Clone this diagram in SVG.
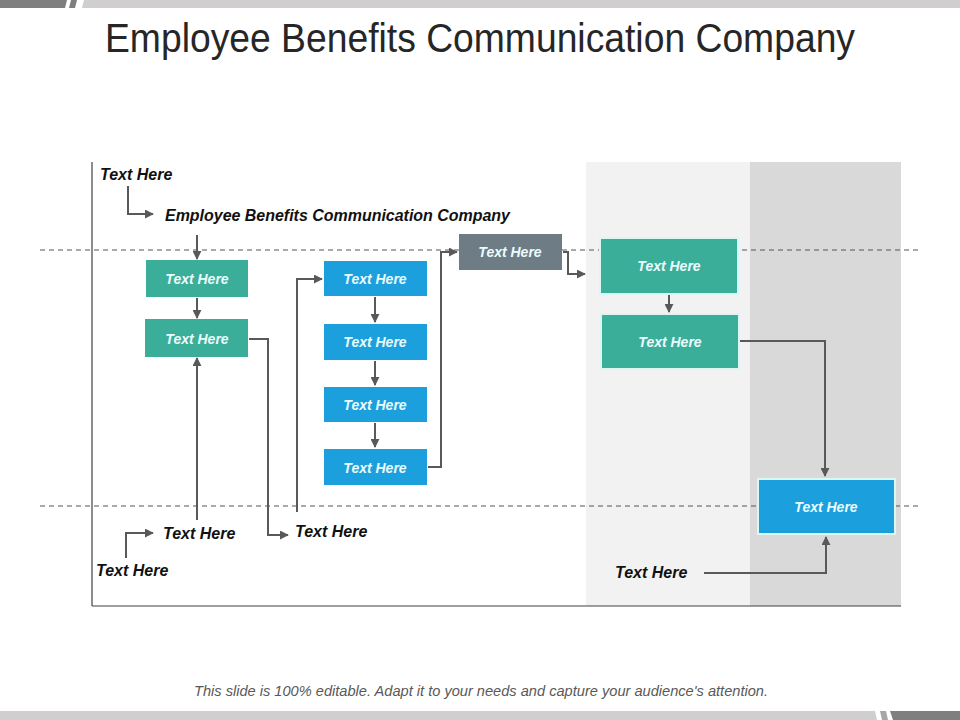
<svg xmlns="http://www.w3.org/2000/svg" width="960" height="720" viewBox="0 0 960 720">
<defs>
<marker id="arr" viewBox="0 0 10 10" refX="9" refY="5" markerWidth="4.5" markerHeight="4.5" orient="auto" markerUnits="strokeWidth">
<path d="M0,0 L10,5 L0,10 z" fill="#595959"/>
</marker>
<style>
.title{font-family:"Liberation Sans",Arial,sans-serif;font-size:40px;fill:#262626}
.foot{font-family:"Liberation Sans",Arial,sans-serif;font-size:14.5px;font-style:italic;fill:#595959}
.lbl{font-family:"Liberation Sans",Arial,sans-serif;font-size:16px;font-weight:bold;font-style:italic;fill:#111}
.nt{font-family:"Liberation Sans",Arial,sans-serif;font-size:14px;font-weight:bold;font-style:italic;fill:#eafcff;text-anchor:middle}
.teal{fill:#3aae98}
.blue{fill:#1c9fdd}
.grey{fill:#6e7c86}
.bord{stroke:#dcf6f4;stroke-width:2}
.con{fill:none;stroke:#595959;stroke-width:2;marker-end:url(#arr)}
.dash{stroke:#555;stroke-width:1;stroke-dasharray:5,4}
</style>
</defs>
<rect width="960" height="720" fill="#fff"/>
<!-- top bar -->
<polygon points="0,0 67,0 65,8 0,8" fill="#7f7f7f"/>
<polygon points="71,0 77,0 75,8 69,8" fill="#7f7f7f"/>
<polygon points="84,0 960,0 960,8 82,8" fill="#d0cece"/>
<!-- bottom bar -->
<polygon points="0,711 875,711 877,720 0,720" fill="#d0cece"/>
<polygon points="880,711 886,711 888,720 882,720" fill="#a6a6a6"/>
<polygon points="890,711 960,711 960,720 893,720" fill="#7f7f7f"/>
<text class="title" x="480" y="52" text-anchor="middle" textLength="750" lengthAdjust="spacingAndGlyphs">Employee Benefits Communication Company</text>
<text class="foot" x="481" y="696" text-anchor="middle" textLength="574" lengthAdjust="spacingAndGlyphs">This slide is 100% editable.  Adapt it to your needs and capture your audience's attention.</text>
<!-- panels -->
<rect x="586" y="162" width="164" height="444" fill="#f2f2f2"/>
<rect x="750" y="162" width="151" height="444" fill="#d9d9d9"/>
<!-- axes -->
<line x1="92" y1="162" x2="92" y2="606" stroke="#404040" stroke-width="1.2"/>
<line x1="92" y1="606" x2="901" y2="606" stroke="#404040" stroke-width="1.2"/>
<line class="dash" x1="40" y1="250" x2="920" y2="250"/>
<line class="dash" x1="40" y1="506" x2="920" y2="506"/>
<!-- labels -->
<g id="lbl-top"><text class="lbl" x="100" y="180">Text Here</text></g>
<g id="lbl-ebc"><text class="lbl" x="165" y="221" font-size="15" textLength="345" lengthAdjust="spacingAndGlyphs">Employee Benefits Communication Company</text></g>
<g id="lbl-b1"><text class="lbl" x="163" y="539">Text Here</text></g>
<g id="lbl-b2"><text class="lbl" x="96" y="576">Text Here</text></g>
<g id="lbl-b3"><text class="lbl" x="295" y="537">Text Here</text></g>
<g id="lbl-b4"><text class="lbl" x="615" y="578">Text Here</text></g>
<!-- nodes -->
<g id="n-teal1"><rect class="teal" x="146" y="260" width="102" height="37"/><text class="nt" x="197" y="284">Text Here</text></g>
<g id="n-teal2"><rect class="teal" x="145" y="319" width="103" height="38"/><text class="nt" x="197" y="344">Text Here</text></g>
<g id="n-blue1"><rect class="blue" x="324" y="261" width="103" height="35"/><text class="nt" x="375" y="284">Text Here</text></g>
<g id="n-blue2"><rect class="blue" x="324" y="324" width="103" height="36"/><text class="nt" x="375" y="347">Text Here</text></g>
<g id="n-blue3"><rect class="blue" x="324" y="387" width="103" height="35"/><text class="nt" x="375" y="410">Text Here</text></g>
<g id="n-blue4"><rect class="blue" x="324" y="449" width="103" height="36"/><text class="nt" x="375" y="473">Text Here</text></g>
<g id="n-grey"><rect class="grey" x="459" y="234" width="103" height="36"/><text class="nt" x="510" y="257">Text Here</text></g>
<g id="n-teal3"><rect class="teal bord" x="600" y="238" width="138" height="56"/><text class="nt" x="669" y="271">Text Here</text></g>
<g id="n-teal4"><rect class="teal bord" x="601" y="314" width="138" height="55"/><text class="nt" x="670" y="347">Text Here</text></g>
<g id="n-blue5"><rect class="blue bord" x="758" y="479" width="137" height="55"/><text class="nt" x="826" y="512">Text Here</text></g>
<!-- connectors -->
<g id="connectors">
<path class="con" d="M128,186 V214 H153"/>
<path class="con" d="M197,235 V259"/>
<path class="con" d="M197,298 V318"/>
<path class="con" d="M197,520 V358"/>
<path class="con" d="M126,558 V533 H153"/>
<path class="con" d="M249,339 H268 V535 H288"/>
<path class="con" d="M297,512 V279 H322"/>
<path class="con" d="M375,297 V322"/>
<path class="con" d="M375,361 V385"/>
<path class="con" d="M375,423 V447"/>
<path class="con" d="M428,467 H441 V252 H457"/>
<path class="con" d="M563,252 H568 V274 H585"/>
<path class="con" d="M669,295 V312"/>
<path class="con" d="M740,341 H825 V476"/>
<path class="con" d="M704,573 H826 V537"/>
</g>
</svg>
